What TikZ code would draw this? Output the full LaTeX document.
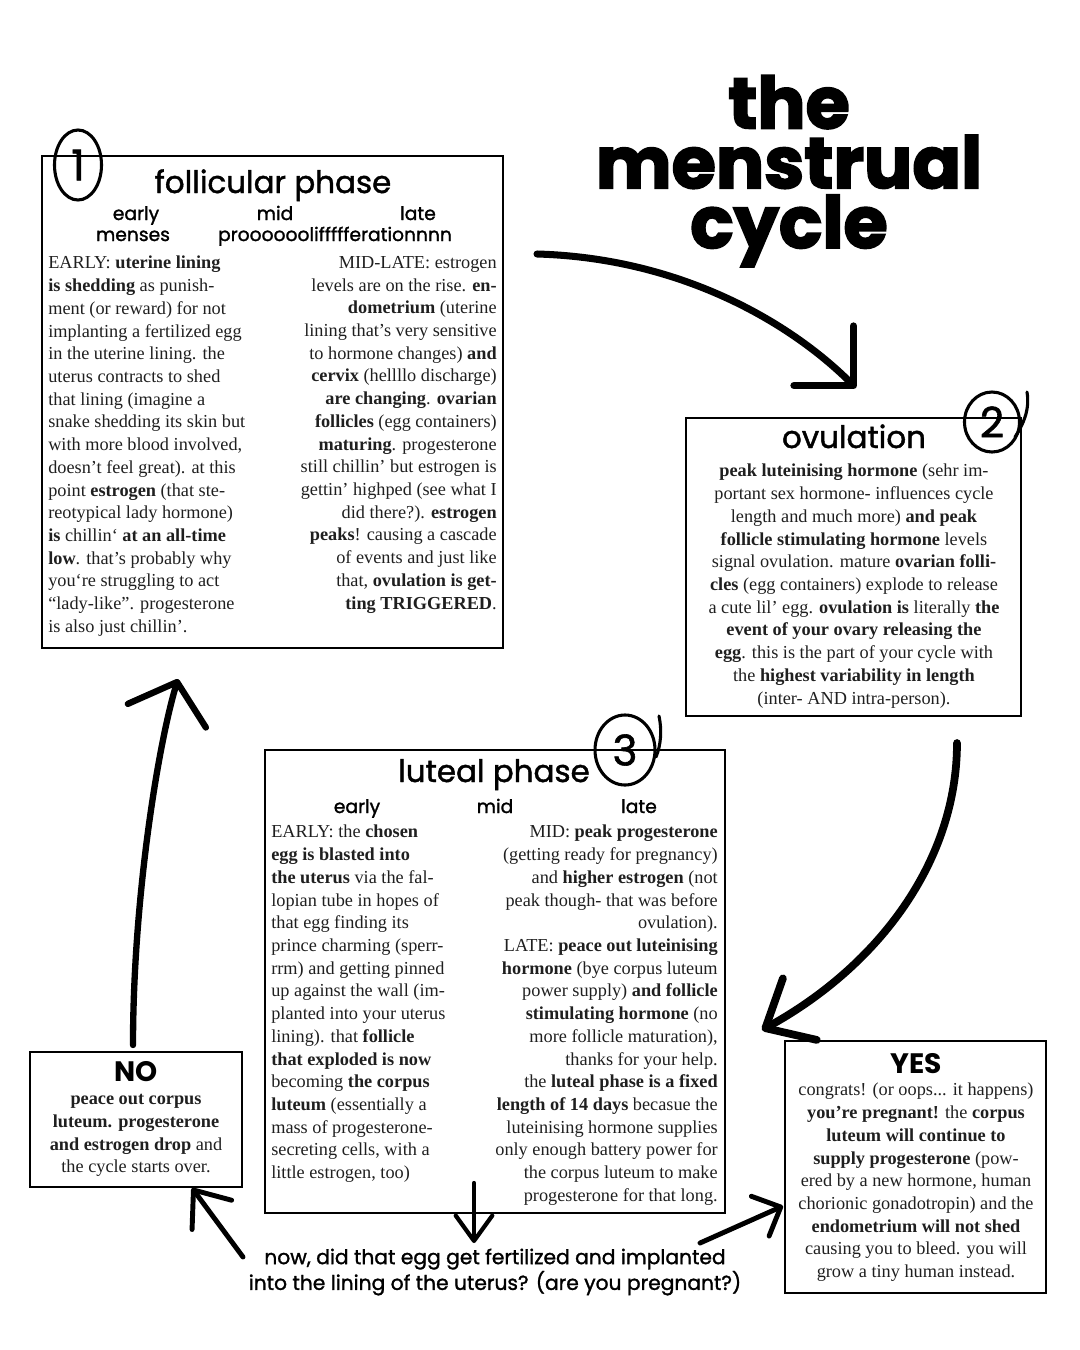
\documentclass[tikz,border=0pt]{standalone}
\usepackage{fontspec}
\setmainfont{Liberation Serif}
\newfontfamily\popfont{Poppins}[UprightFeatures={FakeBold=1.4}]
\newfontfamily\popheavy{Poppins}[BoldFeatures={FakeBold=2.5}]
\usetikzlibrary{arrows.meta,positioning,shapes.geometric}
\newcommand{\px}{0.025cm}
\tikzset{
  phasebox/.style={draw, line width=2pt, inner sep=0pt},
  phasetitle/.style={anchor=base, inner sep=0pt, font=\popfont\fontsize{22}{24}\selectfont},
  subhead/.style={anchor=base, inner sep=0pt, font=\popfont\fontsize{13.3}{15}\selectfont},
  answer/.style={anchor=base, inner sep=0pt, font=\popfont\bfseries\fontsize{20}{22}\selectfont},
  body/.style={inner sep=0pt, text=black!88, font=\fontsize{13}{16.15}\selectfont},
  leftcol/.style={body, align=left, anchor=north west},
  rightcol/.style={body, align=right, anchor=north east},
  midcol/.style={body, align=center, anchor=north},
  numring/.style={draw, ellipse, line width=2.2pt, inner sep=0pt, font=\popfont\fontsize{30}{30}\selectfont},
  handarrow/.style={line width=#1, line cap=round, line join=round},
  handarrow/.default=5pt,
}

\begin{document}
\begin{tikzpicture}[x=0.025cm, y=-0.025cm]
  \useasboundingbox (0,0) rectangle (1080,1350);

  % Title
  \node[inner sep=0pt, anchor=north, align=center, font=\popheavy\bfseries\fontsize{51}{42.5}\selectfont] (title) at (789,75) {the\\menstrual\\cycle};

  % Follicular phase
  \node[phasebox, minimum width=461*\px, minimum height=492*\px] (follicular) at (272.5,402) {};
  \node[numring, minimum width=47*\px, minimum height=70*\px] (numone) at (78,165) {1};
  \node[phasetitle] (folltitle) at (273,193) {follicular phase};
  \node[subhead] (follearly) at (136,220) {early};
  \node[subhead] (follmid) at (275,220) {mid};
  \node[subhead] (folllate) at (418,220) {late};
  \node[subhead] (follmenses) at (133,241) {menses};
  \node[subhead] (follprolif) at (335,241) {prooooooliffffferationnnn};
  \node[leftcol] (follleft) at (48,256) {
    EARLY: \textbf{uterine lining}\\
    \textbf{is shedding} as punish-\\
    ment (or reward) for not\\
    implanting a fertilized egg\\
    in the uterine lining. the\\
    uterus contracts to shed\\
    that lining (imagine a\\
    snake shedding its skin but\\
    with more blood involved,\\
    doesn’t feel great). at this\\
    point \textbf{estrogen} (that ste-\\
    reotypical lady hormone)\\
    \textbf{is} chillin‘ \textbf{at an all-time}\\
    \textbf{low}. that’s probably why\\
    you‘re struggling to act\\
    “lady-like”. progesterone\\
    is also just chillin’.};
  \node[rightcol] (follright) at (497,256) {
    MID-LATE: estrogen\\
    levels are on the rise. \textbf{en-}\\
    \textbf{dometrium} (uterine\\
    lining that’s very sensitive\\
    to hormone changes) \textbf{and}\\
    \textbf{cervix} (hellllo discharge)\\
    \textbf{are changing}. \textbf{ovarian}\\
    \textbf{follicles} (egg containers)\\
    \textbf{maturing}. progesterone\\
    still chillin’ but estrogen is\\
    gettin’ highped (see what I\\
    did there?). \textbf{estrogen}\\
    \textbf{peaks}! causing a cascade\\
    of events and just like\\
    that, \textbf{ovulation is get-}\\
    \textbf{ting TRIGGERED}.};

  % Ovulation
  \node[phasebox, minimum width=335*\px, minimum height=298*\px] (ovulation) at (853.5,567) {};
  \node[numring, minimum width=55*\px, minimum height=60*\px] (numtwo) at (992,422) {2};
  \draw[line width=2.2pt, line cap=round] (1027,392) .. controls (1030,410) and (1023,425) .. (1015,437);
  \node[phasetitle] (ovultitle) at (854,448) {ovulation};
  \node[midcol] (ovultext) at (854,464) {
    \textbf{peak luteinising hormone} (sehr im-\\
    portant sex hormone- influences cycle\\
    length and much more) \textbf{and peak}\\
    \textbf{follicle stimulating hormone} levels\\
    signal ovulation. mature \textbf{ovarian folli-}\\
    \textbf{cles} (egg containers) explode to release\\
    a cute lil’ egg. \textbf{ovulation is} literally \textbf{the}\\
    \textbf{event of your ovary releasing the}\\
    \textbf{egg}. this is the part of your cycle with\\
    the \textbf{highest variability in length}\\
    (inter- AND intra-person).};

  % Luteal phase
  \node[phasebox, minimum width=460*\px, minimum height=463*\px] (luteal) at (495,981.5) {};
  \node[numring, minimum width=60*\px, minimum height=70*\px] (numthree) at (625,750) {3};
  \draw[line width=2.2pt, line cap=round] (659,716) .. controls (662,730) and (661,745) .. (656,757);
  \node[phasetitle] (luttitle) at (494,782) {luteal phase};
  \node[subhead] (lutearly) at (357,813) {early};
  \node[subhead] (lutmid) at (495,813) {mid};
  \node[subhead] (lutlate) at (639,813) {late};
  \node[leftcol] (lutleft) at (271,825) {
    EARLY: the \textbf{chosen}\\
    \textbf{egg is blasted into}\\
    \textbf{the uterus} via the fal-\\
    lopian tube in hopes of\\
    that egg finding its\\
    prince charming (sperr-\\
    rrm) and getting pinned\\
    up against the wall (im-\\
    planted into your uterus\\
    lining). that \textbf{follicle}\\
    \textbf{that exploded is now}\\
    becoming \textbf{the corpus}\\
    \textbf{luteum} (essentially a\\
    mass of progesterone-\\
    secreting cells, with a\\
    little estrogen, too)};
  \node[rightcol] (lutright) at (718,825) {
    MID: \textbf{peak progesterone}\\
    (getting ready for pregnancy)\\
    and \textbf{higher estrogen} (not\\
    peak though- that was before\\
    ovulation).\\
    LATE: \textbf{peace out luteinising}\\
    \textbf{hormone} (bye corpus luteum\\
    power supply) \textbf{and follicle}\\
    \textbf{stimulating hormone} (no\\
    more follicle maturation),\\
    thanks for your help.\\
    the \textbf{luteal phase is a fixed}\\
    \textbf{length of 14 days} becasue the\\
    luteinising hormone supplies\\
    only enough battery power for\\
    the corpus luteum to make\\
    progesterone for that long.};

  % Question
  \node[inner sep=0pt, align=center, font=\popfont\fontsize{14.4}{17}\selectfont] (question) at (495,1272) {now, did that egg get fertilized and implanted\\into the lining of the uterus? (are you pregnant?)};

  % NO
  \node[phasebox, minimum width=212*\px, minimum height=135*\px] (no) at (136,1119.5) {};
  \node[answer] (nohead) at (136,1081) {NO};
  \node[midcol] (notext) at (136,1094) {
    \textbf{peace out corpus}\\
    \textbf{luteum. progesterone}\\
    \textbf{and estrogen drop} and\\
    the cycle starts over.};

  % YES
  \node[phasebox, minimum width=261*\px, minimum height=252*\px] (yes) at (915.5,1167) {};
  \node[answer] (yeshead) at (916,1073) {YES};
  \node[midcol] (yestext) at (916,1083) {
    congrats! (or oops... it happens)\\
    \textbf{you’re pregnant!} the \textbf{corpus}\\
    \textbf{luteum will continue to}\\
    \textbf{supply progesterone} (pow-\\
    ered by a new hormone, human\\
    chorionic gonadotropin) and the\\
    \textbf{endometrium will not shed}\\
    causing you to bleed. you will\\
    grow a tiny human instead.};

  % Arrows round the cycle
  \coordinate (follout) at (537,254);
  \coordinate (ovulin) at (856,388);
  \coordinate (ovulout) at (957,743);
  \coordinate (yesin) at (762,1030);
  \coordinate (lutout) at (474,1183);
  \coordinate (questin) at (474,1243);
  \coordinate (questno) at (243,1257);
  \coordinate (noin) at (192,1188);
  \coordinate (questyes) at (700,1243);
  \coordinate (yesleft) at (783,1206);
  \coordinate (noout) at (133,1045);
  \coordinate (follin) at (178,679);

  \draw[handarrow=5pt, -{Straight Barb[length=30pt,width=60pt,round]}] (follout) .. controls (680,258) and (790,322) .. (ovulin);
  \draw[handarrow=5.5pt, -{Straight Barb[length=28pt,width=50pt,round]}] (ovulout) .. controls (957,860) and (880,965) .. (yesin);
  \draw[handarrow=3pt, -{Straight Barb[length=18pt,width=26pt,round]}] (lutout) -- (questin);
  \draw[handarrow=3.5pt, -{Straight Barb[length=22pt,width=35pt,round]}] (questno) -- (noin);
  \draw[handarrow=3.5pt, -{Straight Barb[length=16pt,width=31pt,round]}] (questyes) -- (yesleft);
  \draw[handarrow=4.5pt, -{Straight Barb[length=25pt,width=58pt,round]}] (noout) .. controls (133,900) and (158,745) .. (follin);
\end{tikzpicture}
\end{document}
